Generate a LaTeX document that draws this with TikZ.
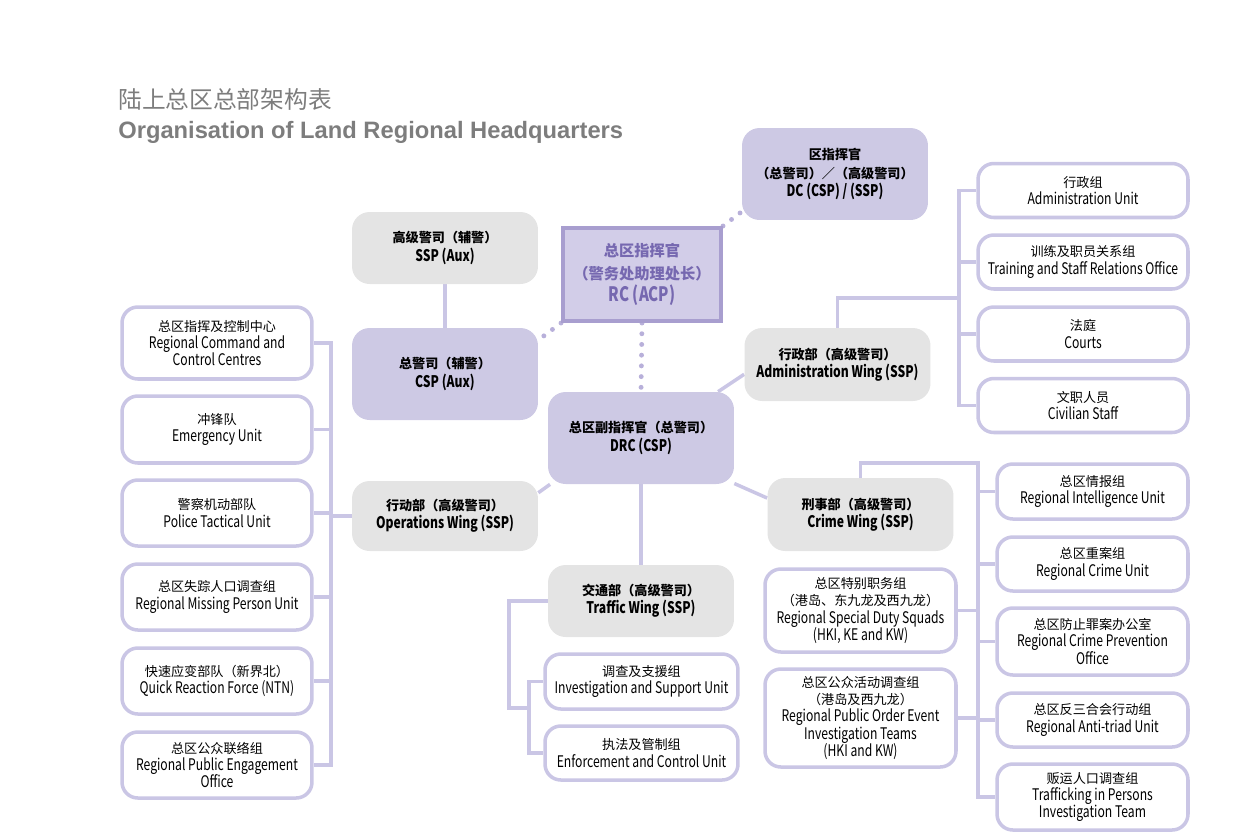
\documentclass[tikz,border=0pt]{standalone}
\usepackage{fontspec}
\setmainfont{Noto Sans CJK SC}[FakeStretch=0.76]
\newfontfamily\zh{Noto Sans CJK SC}[Scale=0.82]
\newfontfamily\zhtitle{Noto Sans CJK SC}
\newfontfamily\titlefont{Liberation Sans}
\definecolor{lavfill}{RGB}{205,201,228}
\definecolor{rcfill}{RGB}{210,205,232}
\definecolor{rcline}{RGB}{168,158,207}
\definecolor{rctext}{RGB}{118,104,176}
\definecolor{greyfill}{RGB}{228,228,228}
\definecolor{lavline}{RGB}{202,198,229}
\definecolor{dotclr}{RGB}{184,176,218}
\definecolor{titlegrey}{RGB}{125,125,125}
\pgfdeclarelayer{back}
\pgfsetlayers{back,main}

\begin{document}
\begin{tikzpicture}[x = 0.02cm, y = -0.02cm,
  lead/.style = {fill=lavfill, rounded corners=10pt, align=center, inner sep=0pt,
                 minimum width=3.72cm, font=\bfseries\fontsize{9.1}{10.4}\selectfont},
  wing/.style = {lead, fill=greyfill},
  unit/.style = {draw=lavline, line width=2pt, fill=white, rounded corners=9pt,
                 align=center, inner sep=0pt, font=\fontsize{9.1}{9.8}\selectfont},
  link/.style = {draw=lavline, line width=2pt},
  dotlink/.style = {draw=dotclr, line width=2.8pt, line cap=round, dash pattern=on 0pt off 6.1pt}]
\useasboundingbox (0,0) rectangle (1240,836);

\node[anchor=base west, inner sep=0pt, text=titlegrey, font=\zhtitle\fontsize{13.5}{14}\selectfont]
  (titlezh) at (118,108) {陆上总区总部架构表};
\node[anchor=base west, inner sep=0pt, text=titlegrey, font=\titlefont\bfseries\fontsize{13.5}{14}\selectfont]
  (titleen) at (118,138) {Organisation of Land Regional Headquarters};

\node[draw=rcline, line width=2.3pt, fill=rcfill, text=rctext, align=center, inner sep=0pt,
      minimum width=3.16cm, minimum height=1.86cm, font=\bfseries\fontsize{11.3}{12.8}\selectfont]
  (rc) at (642,274.5) {{\zh\fontsize{10.6}{12.8}\selectfont 总区指挥官}\\{\zh\fontsize{10.6}{12.8}\selectfont （警务处助理处长）}\\RC (ACP)};
\node[lead, minimum height=1.84cm] (dc) at (835,174) {{\zh 区指挥官}\\{\zh （总警司）／（高级警司）}\\DC (CSP) / (SSP)};
\node[wing, minimum height=1.44cm] (sspa) at (445,248) {{\zh 高级警司（辅警）}\\SSP (Aux)};
\node[lead, minimum height=1.84cm] (cspa) at (445,374) {{\zh 总警司（辅警）}\\CSP (Aux)};
\node[wing, minimum height=1.46cm] (adw) at (837.5,364.5) {{\zh 行政部（高级警司）}\\Administration Wing (SSP)};
\node[lead, minimum height=1.84cm] (drc) at (641,438) {{\zh 总区副指挥官（总警司）}\\DRC (CSP)};
\node[wing, minimum height=1.40cm] (ops) at (445,516) {{\zh 行动部（高级警司）}\\Operations Wing (SSP)};
\node[wing, minimum height=1.46cm] (crw) at (860.5,514.5) {{\zh 刑事部（高级警司）}\\Crime Wing (SSP)};
\node[wing, minimum height=1.44cm] (trw) at (641,601) {{\zh 交通部（高级警司）}\\Traffic Wing (SSP)};

\node[unit, minimum width=3.80cm, minimum height=1.44cm] (o1) at (217,343) {{\zh 总区指挥及控制中心}\\Regional Command and\\Control Centres};
\node[unit, minimum width=3.80cm, minimum height=1.34cm] (o2) at (217,429.5) {{\zh 冲锋队}\\Emergency Unit};
\node[unit, minimum width=3.80cm, minimum height=1.32cm] (o3) at (217,513) {{\zh 警察机动部队}\\Police Tactical Unit};
\node[unit, minimum width=3.80cm, minimum height=1.32cm] (o4) at (217,597) {{\zh 总区失踪人口调查组}\\Regional Missing Person Unit};
\node[unit, minimum width=3.80cm, minimum height=1.32cm] (o5) at (217,681) {{\zh 快速应变部队（新界北）}\\Quick Reaction Force (NTN)};
\node[unit, minimum width=3.80cm, minimum height=1.32cm] (o6) at (217,765) {{\zh 总区公众联络组}\\Regional Public Engagement\\Office};

\node[unit, minimum width=4.20cm, minimum height=1.08cm] (a1) at (1083,190.5) {{\zh 行政组}\\Administration Unit};
\node[unit, minimum width=4.20cm, minimum height=1.08cm] (a2) at (1083,262) {{\zh 训练及职员关系组}\\Training and Staff Relations Office};
\node[unit, minimum width=4.20cm, minimum height=1.08cm] (a3) at (1083,334) {{\zh 法庭}\\Courts};
\node[unit, minimum width=4.20cm, minimum height=1.08cm] (a4) at (1083,405.5) {{\zh 文职人员}\\Civilian Staff};

\node[unit, minimum width=3.82cm, minimum height=1.10cm] (c1) at (1092.5,491.5) {{\zh 总区情报组}\\Regional Intelligence Unit};
\node[unit, minimum width=3.82cm, minimum height=1.08cm] (c2) at (1092.5,564) {{\zh 总区重案组}\\Regional Crime Unit};
\node[unit, minimum width=3.82cm, minimum height=1.34cm] (c3) at (1092.5,641.5) {{\zh 总区防止罪案办公室}\\Regional Crime Prevention\\Office};
\node[unit, minimum width=3.82cm, minimum height=1.08cm] (c4) at (1092.5,720) {{\zh 总区反三合会行动组}\\Regional Anti-triad Unit};
\node[unit, minimum width=3.82cm, minimum height=1.32cm] (c5) at (1092.5,797) {{\zh 贩运人口调查组}\\Trafficking in Persons\\Investigation Team};
\node[unit, minimum width=3.82cm, minimum height=1.66cm] (sds) at (860.5,610.5) {{\zh 总区特别职务组}\\{\zh （港岛、东九龙及西九龙）}\\Regional Special Duty Squads\\(HKI, KE and KW)};
\node[unit, minimum width=3.82cm, minimum height=1.96cm] (poe) at (860.5,718) {{\zh 总区公众活动调查组}\\{\zh （港岛及西九龙）}\\Regional Public Order Event\\Investigation Teams\\(HKI and KW)};

\node[unit, minimum width=3.86cm, minimum height=1.10cm] (t1) at (641.5,681.5) {{\zh 调查及支援组}\\Investigation and Support Unit};
\node[unit, minimum width=3.86cm, minimum height=1.08cm] (t2) at (641.5,753) {{\zh 执法及管制组}\\Enforcement and Control Unit};

\coordinate (obus) at (331,0);
\coordinate (abus) at (959,298);
\coordinate (cbus) at (978,463);
\coordinate (tbend) at (509,708);
\coordinate (tbus) at (529,0);

\begin{pgfonlayer}{back}
\draw[link] (sspa.south) -- (cspa.north);
\draw[link] (drc.207) -- (ops.14);
\draw[link] (drc.31) -- (adw.186);
\draw[link] (drc.-26) -- (crw.170);
\draw[link] (drc.south) -- (trw.north);
\draw[dotlink] (rc.south) -- (drc.north);
\draw[dotlink] (rc.south west) -- (cspa.20);
\draw[dotlink] (rc.north east) -- (dc.202);

\draw[link] (o1.east) -- (o1.east -| obus) -- (o6.east -| obus) -- (o6.east);
\foreach \u in {o2,o3,o4,o5}
  \draw[link] (\u.east) -- (\u.east -| obus);
\draw[link] (ops.west) -- (ops.west -| obus);

\draw[link] (adw.north) |- (abus);
\draw[link] (a1.west) -- (a1.west -| abus) -- (a4.west -| abus) -- (a4.west);
\foreach \u in {a2,a3}
  \draw[link] (\u.west) -- (\u.west -| abus);

\draw[link] (crw.north) |- (cbus) -- (c5.west -| cbus) -- (c5.west);
\foreach \u in {c1,c2,c3,c4}
  \draw[link] (\u.west) -- (\u.west -| cbus);
\foreach \u in {sds,poe}
  \draw[link] (\u.east) -- (\u.east -| cbus);

\draw[link] (trw.west) -| (tbend) -- (tbend -| tbus);
\draw[link] (t1.west) -- (t1.west -| tbus) -- (t2.west -| tbus) -- (t2.west);
\end{pgfonlayer}
\end{tikzpicture}
\end{document}
